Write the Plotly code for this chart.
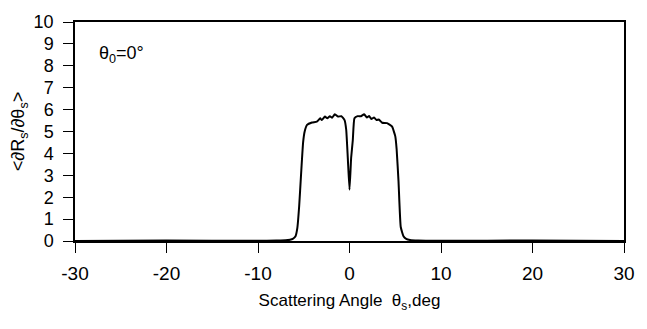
import plotly.graph_objects as go

angle = [-30, -20, -10, -8, -7, -6.5, -6.2, -5.9, -5.7, -5.5, -5.3, -5.07, -4.9, -4.64, -4.1, -3.57, -3.2,
         -3.03, -2.68, -2.43, -2.14, -1.9, -1.6, -1.25, -0.89, -0.54, -0.36, -0.18, 0.0,
         0.18, 0.36, 0.54, 0.89, 1.25, 1.6, 1.9, 2.14, 2.39, 2.68, 2.96, 3.2, 3.57, 4.1,
         4.64, 5.0, 5.15, 5.36, 5.6, 5.9, 6.2, 6.6, 7.5, 10, 20, 30]
response = [0.0, 0.02, 0.01, 0.02, 0.03, 0.06, 0.1, 0.22, 0.6, 1.6, 3.0, 4.5, 5.0, 5.3, 5.41, 5.45, 5.6,
            5.52, 5.68, 5.6, 5.7, 5.63, 5.79, 5.68, 5.7, 5.52, 5.08, 3.75, 2.34,
            3.8, 4.6, 5.6, 5.7, 5.7, 5.79, 5.64, 5.71, 5.57, 5.64, 5.52, 5.55, 5.4, 5.38,
            5.23, 4.79, 4.2, 2.7, 0.64, 0.22, 0.1, 0.05, 0.02, 0.01, 0.02, 0.0]

x_ticks = [-30, -20, -10, 0, 10, 20, 30]
y_ticks = [0, 1, 2, 3, 4, 5, 6, 7, 8, 9, 10]

fig = go.Figure()
fig.add_trace(go.Scatter(x=angle, y=response, mode="lines",
                         line=dict(color="black", width=2, shape="spline", smoothing=0.4),
                         showlegend=False))

font_family = "Liberation Sans, Arial, sans-serif"
fig.update_layout(
    width=647, height=329,
    margin=dict(l=75, r=12, t=16, b=88),
    paper_bgcolor="white", plot_bgcolor="white",
    font=dict(family=font_family, color="black", size=18),
    xaxis=dict(range=[-30, 30], tickvals=x_ticks, ticktext=[str(v) for v in x_ticks],
               showgrid=False, zeroline=False, showline=True, linecolor="black", linewidth=1.5,
               mirror=True, ticks="outside", ticklen=10, tickwidth=1.2, tickcolor="black",
               tickfont=dict(size=19), ticklabeloverflow="allow", ticklabelstandoff=4,
               title=dict(text="Scattering Angle  θ<sub>s</sub>,deg", font=dict(size=17), standoff=12)),
    yaxis=dict(range=[0, 10], tickvals=y_ticks, ticktext=[str(v) for v in y_ticks],
               showgrid=False, zeroline=False, showline=True, linecolor="black", linewidth=1.5,
               mirror=True, ticks="outside", ticklen=10, tickwidth=1.2, tickcolor="black",
               tickfont=dict(size=18), ticklabeloverflow="allow", ticklabelstandoff=6,
               title=dict(text="&lt;∂R<sub>s</sub>/∂θ<sub>s</sub>&gt;", font=dict(size=18), standoff=4)),
)
fig.add_annotation(x=0.04, y=0.85, xref="paper", yref="paper", xanchor="left", yanchor="middle",
                   text="θ<sub>0</sub>=0°", showarrow=False, font=dict(size=18))

fig.write_html("out.html", config={"displayModeBar": False},
               post_script="document.body.style.margin='0';document.body.style.overflow='hidden';")
